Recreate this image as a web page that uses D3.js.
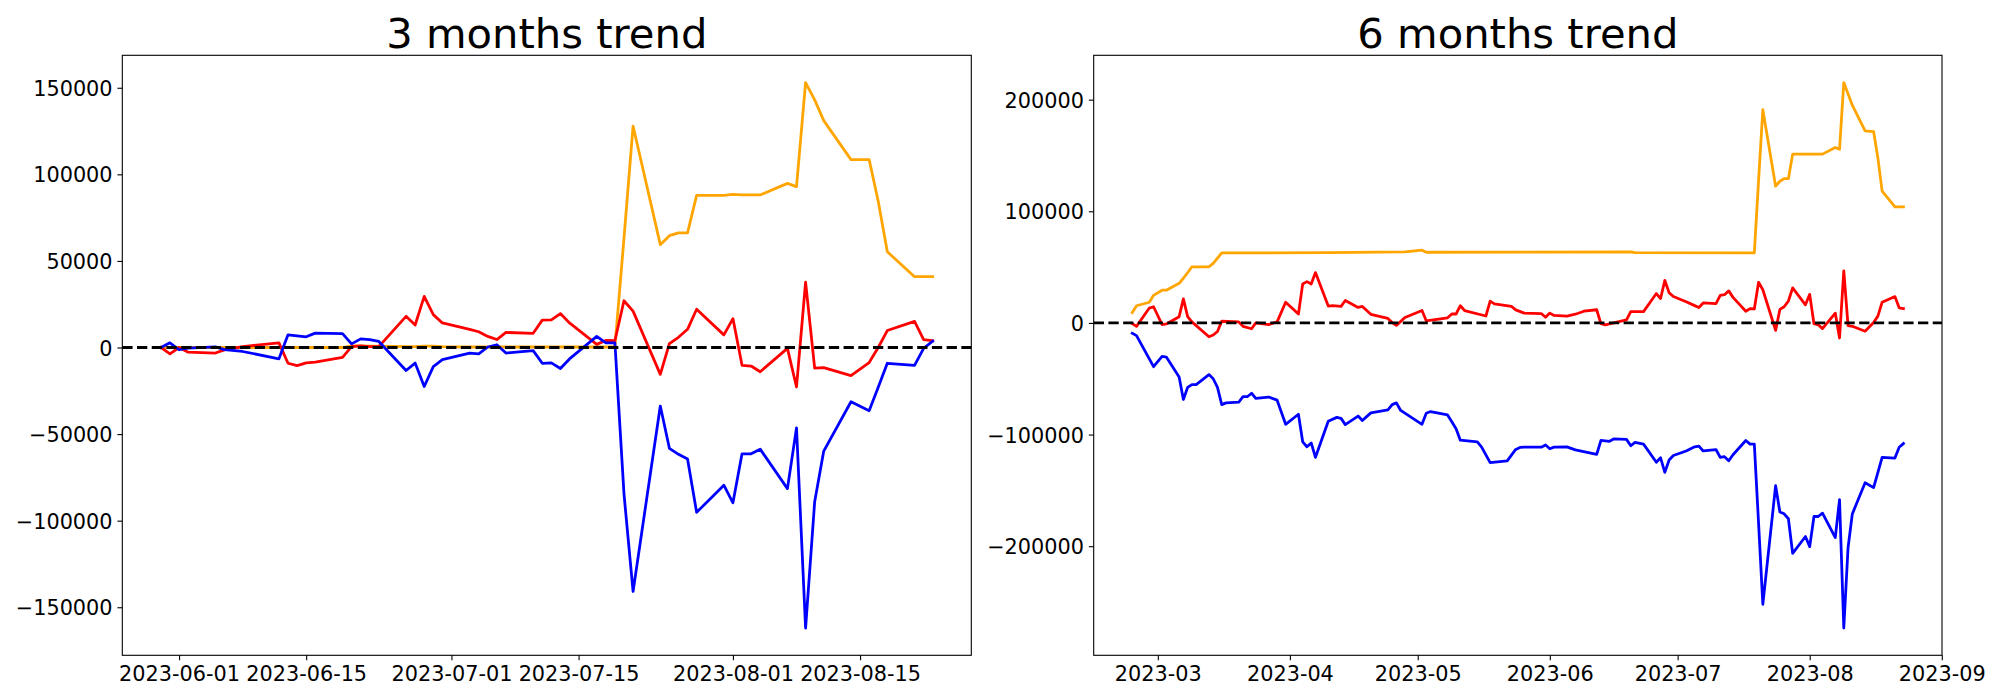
<!DOCTYPE html>
<html><head><meta charset="utf-8">
<script src="https://cdn.jsdelivr.net/npm/d3@7"></script>
<style>
body{margin:0;background:#fff}
svg{display:block}
text{font-family:"DejaVu Sans",sans-serif;fill:#000}
</style>
</head><body>
<svg id="chart" width="2000" height="700"></svg>
<script>
// ---------- 3 months panel ----------
const title3m = "3 months trend";
const dates3m = ["2023-05-30","2023-05-31","2023-06-01","2023-06-02","2023-06-05","2023-06-06","2023-06-08","2023-06-12","2023-06-13","2023-06-14",
"2023-06-15","2023-06-16","2023-06-19","2023-06-20","2023-06-21","2023-06-22","2023-06-23","2023-06-26","2023-06-27","2023-06-28",
"2023-06-29","2023-06-30","2023-07-03","2023-07-04","2023-07-05","2023-07-06","2023-07-07","2023-07-10","2023-07-11","2023-07-12",
"2023-07-13","2023-07-14","2023-07-17","2023-07-18","2023-07-19","2023-07-20","2023-07-21","2023-07-24","2023-07-25","2023-07-26",
"2023-07-27","2023-07-28","2023-07-31","2023-08-01","2023-08-02","2023-08-03","2023-08-04","2023-08-07","2023-08-08","2023-08-09",
"2023-08-10","2023-08-11","2023-08-14","2023-08-16","2023-08-17","2023-08-18","2023-08-21","2023-08-22","2023-08-23"];
const blue3m = [0,2700,-1300,-300,400,-1200,-2300,-6500,7300,6700,
6200,8300,8000,2100,5000,4600,3500,-13300,-9000,-22500,
-11000,-7000,-3200,-3700,300,1600,-3200,-1800,-9100,-8900,
-12100,-6600,6400,2700,2700,-84500,-140900,-33800,-58200,-61700,
-64400,-95200,-79500,-89700,-61400,-61400,-58700,-81500,-46400,-162000,
-89100,-59800,-31300,-36500,-23000,-9100,-10300,-500,3700];
const red3m = [0,-3700,0,-2700,-3200,-1400,500,2700,-9100,-10500,
-8900,-8400,-5700,500,900,500,500,18000,13000,29500,
19000,14200,10500,9100,6400,4600,8700,8200,15800,16000,
19600,14200,1800,4100,3900,27000,21000,-15500,2300,5900,
10500,22100,7300,16700,-10300,-10700,-14000,-500,-22800,37700,
-11900,-11600,-16200,-8700,0,9800,15100,4600,3900];
const orange3m = [0,0,0,0,0,0,0,0,0,0,
0,0,0,1000,1000,800,800,500,500,800,
800,500,300,300,300,300,300,300,300,300,
300,300,300,300,300,63000,127900,59400,64600,66200,
66200,87900,87900,88400,88100,88100,88100,94800,92900,153000,
143000,131000,108500,108500,84500,55300,40900,40900,40900];
const xTicks3m = ["2023-06-01","2023-06-15","2023-07-01","2023-07-15","2023-08-01","2023-08-15"];
const yTicks3m = [-150000,-100000,-50000,0,50000,100000,150000];

// ---------- 6 months panel ----------
const title6m = "6 months trend";
const blue6m = [["2023-02-23",-9300],["2023-02-24",-11400],["2023-02-28",-39200],["2023-03-02",-30000],["2023-03-03",-30600],
["2023-03-06",-48500],["2023-03-07",-68600],["2023-03-08",-57700],["2023-03-09",-55300],["2023-03-10",-55300],
["2023-03-13",-46300],["2023-03-14",-50000],["2023-03-15",-57700],["2023-03-16",-73200],["2023-03-17",-71600],
["2023-03-20",-71000],["2023-03-21",-66100],["2023-03-22",-66100],["2023-03-23",-63000],["2023-03-24",-67600],
["2023-03-27",-66400],["2023-03-29",-69200],["2023-03-31",-90800],["2023-04-03",-81800],["2023-04-04",-106500],
["2023-04-05",-110900],["2023-04-06",-107500],["2023-04-07",-120400],["2023-04-10",-88000],["2023-04-12",-84600],
["2023-04-13",-85500],["2023-04-14",-91100],["2023-04-17",-83400],["2023-04-18",-87400],["2023-04-20",-80600],
["2023-04-24",-77800],["2023-04-25",-73200],["2023-04-26",-71600],["2023-04-27",-78400],["2023-05-02",-90800],
["2023-05-03",-80900],["2023-05-04",-79400],["2023-05-08",-82400],["2023-05-09",-88600],["2023-05-10",-94800],
["2023-05-11",-105000],["2023-05-15",-106500],["2023-05-16",-111200],["2023-05-18",-125100],["2023-05-22",-123500],
["2023-05-24",-113300],["2023-05-25",-111500],["2023-05-26",-111300],["2023-05-30",-111300],["2023-05-31",-109300],
["2023-06-01",-112700],["2023-06-02",-111300],["2023-06-05",-111000],["2023-06-07",-113700],["2023-06-12",-117800],
["2023-06-13",-105300],["2023-06-15",-106000],["2023-06-16",-103900],["2023-06-19",-104300],["2023-06-20",-110000],
["2023-06-21",-107000],["2023-06-23",-108600],["2023-06-26",-124800],["2023-06-27",-120800],["2023-06-28",-133900],
["2023-06-29",-122800],["2023-06-30",-118800],["2023-07-03",-114700],["2023-07-05",-111000],["2023-07-06",-110300],
["2023-07-07",-114700],["2023-07-10",-113400],["2023-07-11",-120500],["2023-07-12",-119800],["2023-07-13",-123500],
["2023-07-14",-118100],["2023-07-17",-105300],["2023-07-18",-108600],["2023-07-19",-108600],["2023-07-20",-179500],
["2023-07-21",-252000],["2023-07-24",-145800],["2023-07-25",-169400],["2023-07-26",-171000],["2023-07-27",-175400],
["2023-07-28",-206500],["2023-07-31",-191300],["2023-08-01",-200400],["2023-08-02",-173400],["2023-08-03",-173400],
["2023-08-04",-170400],["2023-08-07",-192300],["2023-08-08",-158200],["2023-08-09",-273300],["2023-08-10",-201400],
["2023-08-11",-171100],["2023-08-14",-143100],["2023-08-16",-147500],["2023-08-18",-120500],["2023-08-21",-121100],
["2023-08-22",-111300],["2023-08-23",-108000]];
const red6m = [["2023-02-23",-600],["2023-02-24",-3100],["2023-02-27",13300],["2023-02-28",14500],["2023-03-02",-1500],
["2023-03-03",-900],["2023-03-06",5600],["2023-03-07",21600],["2023-03-08",5600],["2023-03-09",900],
["2023-03-13",-12400],["2023-03-14",-10800],["2023-03-15",-7700],["2023-03-16",1500],["2023-03-20",900],
["2023-03-21",-3100],["2023-03-23",-5200],["2023-03-24",0],["2023-03-27",-1500],["2023-03-29",900],
["2023-03-31",18500],["2023-04-03",8000],["2023-04-04",34900],["2023-04-05",37000],["2023-04-06",34900],
["2023-04-07",45100],["2023-04-10",15100],["2023-04-11",15400],["2023-04-13",14800],["2023-04-14",20100],
["2023-04-17",13900],["2023-04-18",14800],["2023-04-20",7700],["2023-04-24",4000],["2023-04-25",300],
["2023-04-26",-2200],["2023-04-28",4900],["2023-05-02",11100],["2023-05-03",1900],["2023-05-08",4600],
["2023-05-09",8000],["2023-05-10",8000],["2023-05-11",15400],["2023-05-12",11100],["2023-05-17",6200],
["2023-05-18",19500],["2023-05-19",17000],["2023-05-23",14800],["2023-05-24",11700],["2023-05-26",8800],
["2023-05-30",8400],["2023-05-31",5100],["2023-06-01",8800],["2023-06-02",6700],["2023-06-05",6100],
["2023-06-07",7800],["2023-06-09",10500],["2023-06-12",11800],["2023-06-13",-700],["2023-06-14",-1700],
["2023-06-19",2700],["2023-06-20",10100],["2023-06-23",10100],["2023-06-26",26300],["2023-06-27",21900],
["2023-06-28",38100],["2023-06-29",27000],["2023-06-30",23600],["2023-07-03",19000],["2023-07-05",15500],
["2023-07-06",13800],["2023-07-07",17900],["2023-07-10",17200],["2023-07-11",24600],["2023-07-12",25300],
["2023-07-13",28700],["2023-07-14",22900],["2023-07-17",10500],["2023-07-18",12800],["2023-07-19",12500],
["2023-07-20",36400],["2023-07-21",29700],["2023-07-24",-6700],["2023-07-25",12100],["2023-07-26",14500],
["2023-07-27",19600],["2023-07-28",31400],["2023-07-31",16200],["2023-08-01",25600],["2023-08-02",-700],
["2023-08-03",-1700],["2023-08-04",-5100],["2023-08-07",8800],["2023-08-08",-13500],["2023-08-09",46600],
["2023-08-10",-2400],["2023-08-11",-3000],["2023-08-14",-7400],["2023-08-16",300],["2023-08-17",6100],
["2023-08-18",18600],["2023-08-21",23600],["2023-08-22",13500],["2023-08-23",12800]];
const orange6m = [["2023-02-23",9300],["2023-02-24",15400],["2023-02-27",18500],["2023-02-28",24700],["2023-03-02",29300],
["2023-03-03",29300],["2023-03-06",35500],["2023-03-07",40000],["2023-03-08",45000],["2023-03-09",50300],
["2023-03-13",50300],["2023-03-14",53400],["2023-03-16",62700],["2023-04-10",63000],["2023-04-28",63600],
["2023-05-02",65200],["2023-05-03",63300],["2023-06-20",63600],["2023-06-21",63000],["2023-07-19",62800],
["2023-07-20",127500],["2023-07-21",191000],["2023-07-24",122500],["2023-07-25",126900],["2023-07-26",129200],
["2023-07-27",129200],["2023-07-28",151200],["2023-07-31",151200],["2023-08-04",151200],["2023-08-07",157200],
["2023-08-08",155500],["2023-08-09",215300],["2023-08-11",195000],["2023-08-14",172100],["2023-08-16",171400],
["2023-08-17",147800],["2023-08-18",118100],["2023-08-21",103900],["2023-08-23",103900]];
const xTicks6m = ["2023-03-01","2023-04-01","2023-05-01","2023-06-01","2023-07-01","2023-08-01","2023-09-01"];
const yTicks6m = [-200000,-100000,0,100000,200000];

const seriesColors = {blue:"#0000ff", red:"#ff0000", orange:"#ffa500"};

// ---------- drawing ----------
const parse = d3.utcParse("%Y-%m-%d");
const svg = d3.select("#chart");
svg.append("rect").attr("width",2000).attr("height",700).attr("fill","#fff");

const TICK = 4.86, PAD = 4.86, FS = 20.8, LW = 2.78;

function drawPanel(cfg) {
  const g = svg.append("g");
  const all = cfg.series.flatMap(s => s.points);
  const [t0, t1] = d3.extent(all, d => d[0]);
  const dt = t1 - t0;
  const [v0, v1] = d3.extent(all, d => d[1]);
  const dv = v1 - v0;
  const x = d3.scaleUtc().domain([new Date(+t0 - 0.05*dt), new Date(+t1 + 0.05*dt)]).range([cfg.x0, cfg.x1]);
  const y = d3.scaleLinear().domain([v0 - 0.05*dv, v1 + 0.05*dv]).range([cfg.y1, cfg.y0]);

  const line = d3.line().x(d => x(d[0])).y(d => y(d[1]));
  cfg.series.forEach(s => {
    g.append("path").datum(s.points).attr("d", line)
      .attr("fill","none").attr("stroke", s.color).attr("stroke-width", LW)
      .attr("stroke-linejoin","round").attr("stroke-linecap","square");
  });

  g.append("line").attr("x1",cfg.x0).attr("x2",cfg.x1).attr("y1",y(0)).attr("y2",y(0))
    .attr("stroke","#000").attr("stroke-width",LW).attr("stroke-dasharray","10.28,4.44");

  // frame
  g.append("rect").attr("x",cfg.x0).attr("y",cfg.y0).attr("width",cfg.x1-cfg.x0).attr("height",cfg.y1-cfg.y0)
    .attr("fill","none").attr("stroke","#000").attr("stroke-width",1.1);

  const xa = g.append("g").attr("transform",`translate(0,${cfg.y1})`)
    .call(d3.axisBottom(x).tickValues(cfg.xTicks.map(parse)).tickFormat(d3.utcFormat(cfg.xFmt))
      .tickSize(TICK).tickPadding(PAD).tickSizeOuter(0));
  xa.select(".domain").remove();
  xa.selectAll("line").attr("stroke","#000").attr("stroke-width",1.1);
  xa.selectAll("text").attr("font-size",FS).attr("font-family","DejaVu Sans").attr("fill","#000").attr("dy","0.76em");

  const ya = g.append("g").attr("transform",`translate(${cfg.x0},0)`)
    .call(d3.axisLeft(y).tickValues(cfg.yTicks).tickFormat(d3.format("d"))
      .tickSize(TICK).tickPadding(PAD).tickSizeOuter(0));
  ya.select(".domain").remove();
  ya.selectAll("line").attr("stroke","#000").attr("stroke-width",1.1);
  ya.selectAll("text").attr("font-size",FS).attr("font-family","DejaVu Sans").attr("fill","#000").attr("dy","0.36em");

  g.append("text").attr("x",(cfg.x0+cfg.x1)/2).attr("y",48).attr("text-anchor","middle")
    .attr("font-size",41.7).attr("font-family","DejaVu Sans").text(cfg.title);
}

const d3m = dates3m.map(parse);
drawPanel({
  title: title3m, x0:122.3, x1:971.3, y0:55.3, y1:655.3,
  xTicks: xTicks3m, xFmt: "%Y-%m-%d", yTicks: yTicks3m,
  series: [
    {color: seriesColors.orange, points: d3m.map((d,i)=>[d, orange3m[i]])},
    {color: seriesColors.red, points: d3m.map((d,i)=>[d, red3m[i]])},
    {color: seriesColors.blue, points: d3m.map((d,i)=>[d, blue3m[i]])}
  ]
});
drawPanel({
  title: title6m, x0:1093.7, x1:1942, y0:55.3, y1:655.3,
  xTicks: xTicks6m, xFmt: "%Y-%m", yTicks: yTicks6m,
  series: [
    {color: seriesColors.orange, points: orange6m.map(p=>[parse(p[0]), p[1]])},
    {color: seriesColors.red, points: red6m.map(p=>[parse(p[0]), p[1]])},
    {color: seriesColors.blue, points: blue6m.map(p=>[parse(p[0]), p[1]])}
  ]
});
</script>
</body></html>
